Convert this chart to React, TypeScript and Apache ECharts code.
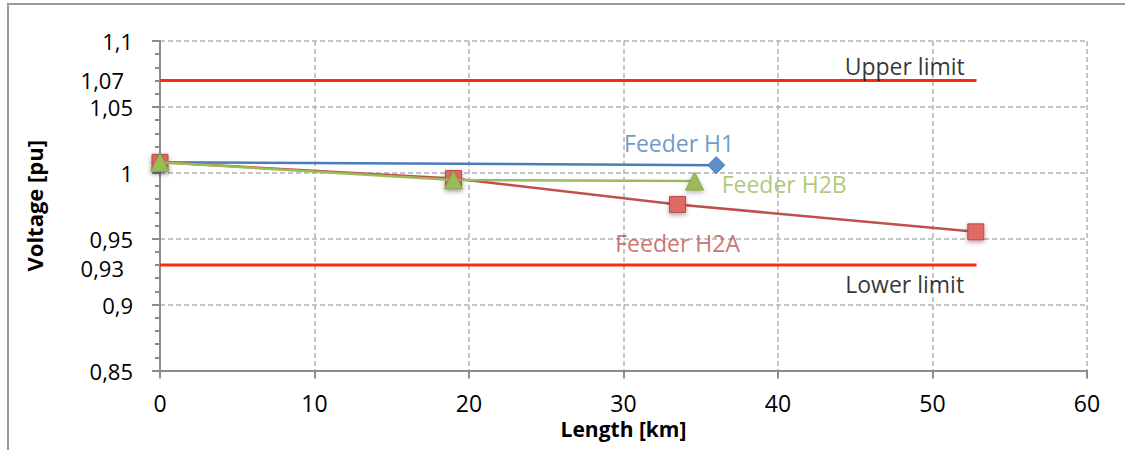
import React, { useEffect, useRef } from "react";
import * as echarts from "echarts";

// Feeder voltage profiles along the feeder length
const feederH1: [number, number][] = [
  [0, 1.008],
  [36, 1.0058],
];
const feederH2A: [number, number][] = [
  [0, 1.008],
  [19, 0.9957],
  [33.5, 0.976],
  [52.8, 0.9552],
];
const feederH2B: [number, number][] = [
  [0, 1.008],
  [19, 0.9946],
  [34.6, 0.9937],
];

// Voltage limits
const upperLimit = 1.07;
const lowerLimit = 0.93;
const limitSpan: [number, number] = [0, 52.85];

// Text annotations (centre of each text, in km / pu)
const annotations: { text: string; x: number; y: number; color: string }[] = [
  { text: "Feeder H1", x: 33.6, y: 1.0228, color: "#4a7ebb" },
  { text: "Feeder H2B", x: 40.4, y: 0.9913, color: "#9bbb59" },
  { text: "Feeder H2A", x: 33.5, y: 0.9465, color: "#c0504d" },
  { text: "Upper limit", x: 48.2, y: 1.0812, color: "#000000" },
  { text: "Lower limit", x: 48.2, y: 0.9153, color: "#000000" },
];

const FONT = "Open Sans";
const fmt = (v: number) => String(Math.round(v * 100) / 100).replace(".", ",");

export default function App() {
  const ref = useRef<HTMLDivElement>(null);

  useEffect(() => {
    if (!ref.current) return;
    const chart = echarts.init(ref.current, undefined, { renderer: "svg" });

    const limitSeries = (value: number, dy: number) => ({
      type: "line",
      data: limitSpan.map((x, i) => ({
        value: [x, value],
        label:
          i === 0
            ? {
                show: true,
                position: "left",
                distance: 36,
                offset: [0, dy],
                formatter: () => fmt(value),
                color: "#000",
                fontFamily: FONT,
                fontSize: 22,
                lineHeight: 20,
              }
            : { show: false },
      })),
      symbol: "circle",
      symbolSize: 0,
      showSymbol: true,
      lineStyle: { color: "#ff2a0a", width: 3 },
      z: 3,
    });

    chart.setOption({
      animation: false,
      backgroundColor: "#ffffff",
      textStyle: { fontFamily: FONT },
      graphic: [
        {
          type: "polyline",
          shape: { points: [[8, 450], [8, 4], [1125, 4]] },
          style: { stroke: "#9a9a9a", lineWidth: 2, fill: "none" },
          silent: true,
        },
      ],
      grid: { left: 160, right: 38, top: 41, bottom: 79.5 },
      xAxis: {
        type: "value",
        min: 0,
        max: 60,
        interval: 10,
        name: "Length [km]",
        nameLocation: "middle",
        nameGap: 47,
        nameTextStyle: { fontFamily: FONT, fontSize: 21, fontWeight: "bold", color: "#000" },
        axisLine: { show: true, lineStyle: { color: "#8c8c8c", width: 2 } },
        axisTick: { show: true, length: 8, lineStyle: { color: "#8c8c8c", width: 2 } },
        axisLabel: { fontFamily: FONT, fontSize: 23, color: "#000", margin: 22, lineHeight: 20 },
        splitLine: {
          show: true,
          lineStyle: { color: "#b3b3b3", width: 1.5, type: [5, 3] },
        },
      },
      yAxis: {
        type: "value",
        min: 0.85,
        max: 1.1,
        interval: 0.05,
        name: "Voltage [pu]",
        nameLocation: "middle",
        nameGap: 115,
        nameTextStyle: { fontFamily: FONT, fontSize: 22, fontWeight: "bold", color: "#000" },
        axisLine: { show: true, lineStyle: { color: "#8c8c8c", width: 2 } },
        axisTick: { show: true, length: 8, lineStyle: { color: "#8c8c8c", width: 2 } },
        minorTick: { show: true, splitNumber: 5, length: 5, lineStyle: { color: "#8c8c8c", width: 2 } },
        axisLabel: {
          fontFamily: FONT,
          fontSize: 22,
          color: "#000",
          margin: 27,
          lineHeight: 20,
          formatter: (v: number) => fmt(v),
        },
        splitLine: {
          show: true,
          lineStyle: { color: "#b3b3b3", width: 1.5, type: [5, 3] },
        },
      },
      series: [
        limitSeries(upperLimit, -1),
        limitSeries(lowerLimit, 3),
        {
          name: "Feeder H1",
          type: "line",
          data: feederH1,
          symbol: "diamond",
          symbolSize: 17,
          lineStyle: { color: "#4a7ebb", width: 2.5 },
          itemStyle: { color: "#5b8fd0", borderColor: "#3f6fae", borderWidth: 1 },
          z: 4,
        },
        {
          name: "Feeder H2A",
          type: "line",
          data: feederH2A,
          symbol: "rect",
          symbolSize: 16,
          lineStyle: { color: "#c0504d", width: 2.5 },
          itemStyle: {
            color: "#e06a66",
            borderColor: "#b84a47",
            borderWidth: 1,
            shadowBlur: 5,
            shadowColor: "rgba(0,0,0,0.35)",
            shadowOffsetY: 2,
          },
          z: 5,
        },
        {
          name: "Feeder H2B",
          type: "line",
          data: feederH2B,
          symbol: "triangle",
          symbolSize: 18,
          lineStyle: { color: "#9bbb59", width: 2.5 },
          itemStyle: {
            color: "#9bbb59",
            borderColor: "#86a646",
            borderWidth: 1,
            shadowBlur: 5,
            shadowColor: "rgba(0,0,0,0.3)",
            shadowOffsetY: 2,
          },
          z: 6,
        },
        {
          type: "scatter",
          symbolSize: 0,
          silent: true,
          z: 7,
          data: annotations.map((a) => ({
            value: [a.x, a.y],
            label: {
              show: true,
              position: "inside",
              formatter: a.text,
              color: a.color,
              fontFamily: FONT,
              fontSize: 23,
            },
          })),
        },
      ],
    });

    return () => chart.dispose();
  }, []);

  return (
    <div
      ref={ref}
      style={{ position: "fixed", left: 0, top: 0, width: 1125, height: 450 }}
    />
  );
}
